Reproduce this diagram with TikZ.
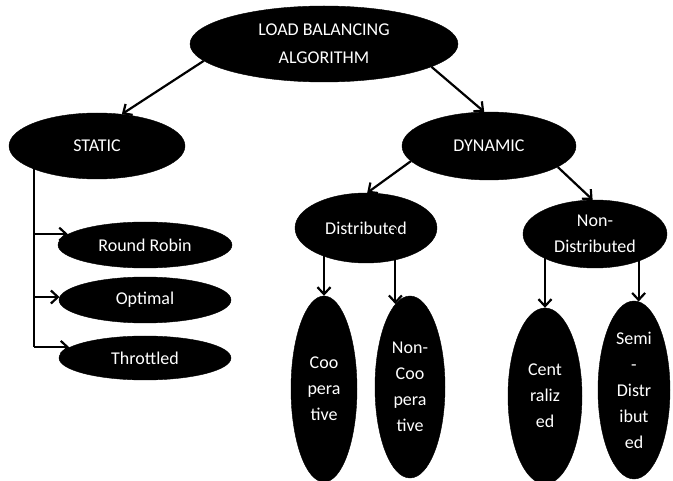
\documentclass[tikz,border=0pt]{standalone}
\usepackage{fontspec}
\setmainfont{Carlito}
\usetikzlibrary{shapes.geometric,arrows.meta}
\begin{document}
\begin{tikzpicture}[x=1pt,y=-1pt,
  oval/.style={ellipse, fill=black, draw=black, text=white, inner sep=0pt, align=center,
    font=\fontsize{18}{26}\selectfont},
  arr/.style={line width=2.2pt, -{Straight Barb[length=7pt,width=13pt]}},
  ln/.style={line width=2.2pt}]
\useasboundingbox (0,0) rectangle (673,481);
% nodes
\node[oval, minimum width=268pt, minimum height=76pt, font=\fontsize{18}{28}\selectfont] (top) at (324,44) {LOAD BALANCING\\ALGORITHM};
\node[oval, minimum width=176pt, minimum height=66pt] (static) at (97,146) {STATIC};
\node[oval, minimum width=174pt, minimum height=68pt] (dynamic) at (489,146) {DYNAMIC};
\node[oval, minimum width=142pt, minimum height=70pt] (dist) at (366,228) {Distributed};
\node[oval, minimum width=144pt, minimum height=68pt] (nondist) at (595,234) {Non-\\Distributed};
\node[oval, minimum width=174pt, minimum height=46pt] (rr) at (145,245) {Round Robin};
\node[oval, minimum width=172pt, minimum height=46pt] (opt) at (145,300) {Optimal};
\node[oval, minimum width=172pt, minimum height=44pt] (thr) at (145,358) {Throttled};
\node[oval, minimum width=66pt, minimum height=186pt] (coop) at (324,389) {Coo\\pera\\tive};
\node[oval, minimum width=70pt, minimum height=182pt] (noncoop) at (410,387) {Non-\\Coo\\pera\\tive};
\node[oval, minimum width=74pt, minimum height=176pt] (cent) at (545,396) {Cent\\raliz\\ed};
\node[oval, minimum width=72pt, minimum height=178pt] (semi) at (634,390) {Semi\\-\\Distr\\ibut\\ed};
% connectors
\draw[arr] (top.188) -- (static.52);
\draw[arr] (top.348) -- (dynamic.98);
\draw[arr] (dynamic.191) -- (dist.88);
\draw[arr] (dynamic.343) -- (nondist.94);
\coordinate (trunk) at (34,146);
\draw[ln] (trunk) -- (trunk |- thr.172);
\draw[arr] (trunk |- rr.172) -- (rr.172);
\draw[arr] (trunk |- opt.178) -- (opt.178);
\draw[arr] (trunk |- thr.172) -- (thr.172);
\draw[arr] (coop.north |- dist.center) -- (coop.north);
\draw[arr] (noncoop.100 |- dist.center) -- (noncoop.100);
\draw[arr] (cent.north |- nondist.center) -- (cent.north);
\draw[arr] (semi.87 |- nondist.center) -- (semi.87);
\end{tikzpicture}
\end{document}
